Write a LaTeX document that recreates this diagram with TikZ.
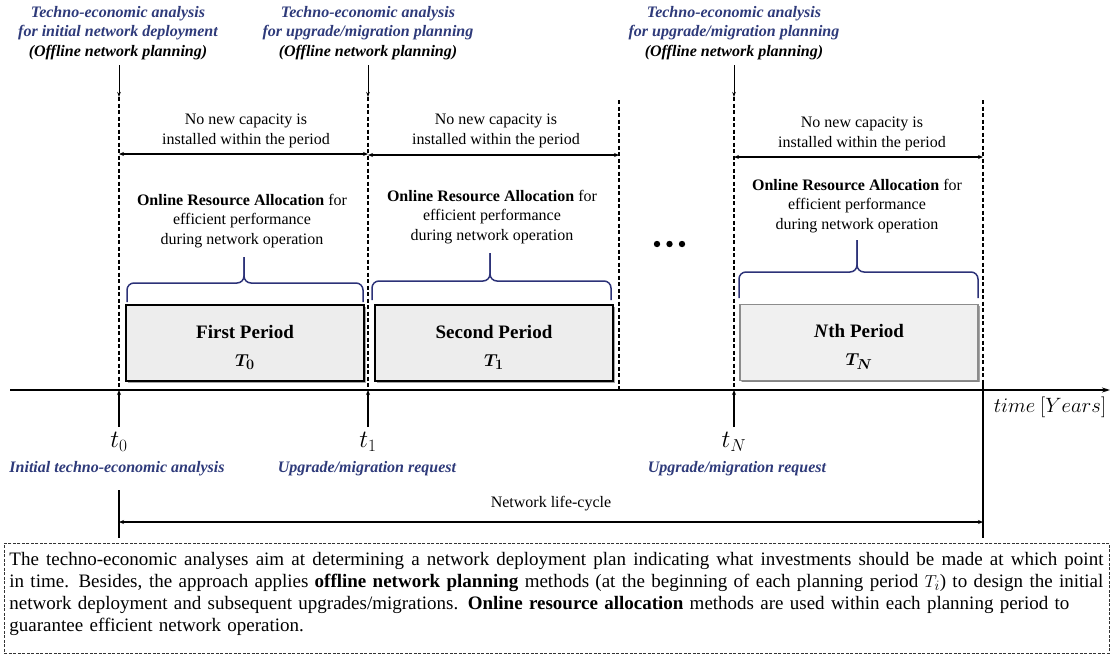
\documentclass[tikz,border=0pt]{standalone}
\usepackage{fontspec}
\setmainfont{Liberation Serif}
\usepackage{bm}
\usetikzlibrary{arrows.meta,shadows}
\definecolor{navy}{HTML}{2E3A7A}
\definecolor{bracecol}{HTML}{2C3278}
\definecolor{boxfill}{HTML}{EDEDED}
\definecolor{lastfill}{HTML}{F0F0F0}
\definecolor{framegray}{HTML}{8C8C8C}
% one justified line of the summary, stretched to a given width
\newcommand{\fullline}[2]{\makebox[#1][s]{\spaceskip=0.25em plus 1em minus 0.06em\relax #2}}

\begin{document}
\begin{tikzpicture}[x=1pt,y=-1pt,
  every node/.style={inner sep=0pt},
  phase/.style={align=center,text=navy,font=\fontsize{16}{19.5}\selectfont\bfseries\itshape},
  event/.style={text=navy,font=\fontsize{16}{19}\selectfont\bfseries\itshape},
  note/.style={align=center,font=\fontsize{16}{19.5}\selectfont},
  ticklabel/.style={font=\fontsize{23}{25}\selectfont},
  periodbox/.style={draw=black,line width=1.6pt,fill=boxfill,minimum width=238pt,
    minimum height=76pt,align=center,font=\fontsize{19}{28}\selectfont\bfseries,
    drop shadow={shadow xshift=1.5pt,shadow yshift=-1.5pt,opacity=0.35,fill=black}},
  boundary/.style={line width=1.3pt,dash pattern=on 4pt off 2.5pt},
  pointer/.style={line width=0.8pt,-{Stealth[length=5pt,width=3.5pt]}},
  raise/.style={line width=1.5pt,-{Stealth[length=5pt,width=4pt]}},
  span/.style={line width=1.3pt,{Stealth[length=5pt,width=4pt]}-{Stealth[length=5pt,width=4pt]}},
  curlybrace/.style={draw=bracecol,line width=1.5pt,rounded corners=7pt},
]
\useasboundingbox (0,0) rectangle (1112,657);

% planning decisions above the time line
\node[phase] (ph0) at (118,33) {Techno-economic analysis\\for initial network deployment\\\textcolor{black}{(Offline network planning)}};
\node[phase] (ph1) at (368,33) {Techno-economic analysis\\for upgrade/migration planning\\\textcolor{black}{(Offline network planning)}};
\node[phase] (phN) at (734,33) {Techno-economic analysis\\for upgrade/migration planning\\\textcolor{black}{(Offline network planning)}};

% period boundaries
\coordinate (s0) at (119,65);  \coordinate (d0) at (119,97);  \coordinate (a0) at (119,390);  \coordinate (u0) at (119,427);
\coordinate (s1) at (368,65);  \coordinate (d1) at (368,97);  \coordinate (a1) at (368,390);  \coordinate (u1) at (368,427);
\coordinate (e1top) at (619,100); \coordinate (e1bot) at (619,390);
\coordinate (sN) at (734,65);  \coordinate (dN) at (734,97);  \coordinate (aN) at (734,390);  \coordinate (uN) at (734,427);
\coordinate (eNtop) at (983,100); \coordinate (eNmid) at (983,381); \coordinate (eNbot) at (983,538);

\draw[pointer] (s0) -- (d0);
\draw[pointer] (s1) -- (d1);
\draw[pointer] (sN) -- (dN);

\draw[boundary] (d0) -- (a0);
\draw[boundary] (d1) -- (a1);
\draw[boundary] (e1top) -- (e1bot);
\draw[boundary] (dN) -- (aN);
\draw[boundary] (eNtop) -- (eNmid);

% capacity spans
\coordinate (h0l) at (119,154); \coordinate (h0r) at (368,154);
\coordinate (h1l) at (368,155); \coordinate (h1r) at (619,155);
\coordinate (hNl) at (734,157); \coordinate (hNr) at (983,157);
\draw[span] (h0l) -- (h0r);
\draw[span] (h1l) -- (h1r);
\draw[span] (hNl) -- (hNr);
\node[note] (cap0) at (246,131) {No new capacity is\\installed within the period};
\node[note] (cap1) at (496,131) {No new capacity is\\installed within the period};
\node[note] (capN) at (862,134) {No new capacity is\\installed within the period};

% online resource allocation
\node[note] (ora0) at (242,221) {\textbf{Online Resource Allocation} for\\efficient performance\\during network operation};
\node[note] (ora1) at (492,217) {\textbf{Online Resource Allocation} for\\efficient performance\\during network operation};
\node[note] (oraN) at (857,206) {\textbf{Online Resource Allocation} for\\efficient performance\\during network operation};

% braces
\draw[curlybrace] (127,302) -- (127,283) -- (244,283) -- (244,257);
\draw[curlybrace] (244,257) -- (244,283) -- (363,283) -- (363,302);
\draw[curlybrace] (372,300) -- (372,281) -- (490,281) -- (490,253);
\draw[curlybrace] (490,253) -- (490,281) -- (611,281) -- (611,300);
\draw[curlybrace] (739,298) -- (739,272) -- (857,272) -- (857,240);
\draw[curlybrace] (857,240) -- (857,272) -- (978,272) -- (978,298);

% periods
\node[periodbox] (p0) at (245,343) {\rule{0pt}{22pt}First Period\\$\bm{T_0}$};
\node[periodbox] (p1) at (494,343) {\rule{0pt}{22pt}Second Period\\$\bm{T_1}$};
\node[periodbox,draw=framegray,fill=lastfill,line width=1.2pt,
  drop shadow={shadow xshift=1.2pt,shadow yshift=-1.2pt,opacity=0.2,fill=black}]
  (pN) at (859,342.5) {\rule{0pt}{22pt}\textit{N}th Period\\$\bm{T_N}$};

% ellipsis
\fill (657,244) circle (3.2pt);
\fill (669.5,244) circle (3.2pt);
\fill (682,244) circle (3.2pt);

% time axis
\coordinate (ax0) at (10,390); \coordinate (ax1) at (1110,390);
\draw[line width=1.3pt,-{Stealth[length=8pt,width=5pt]}] (ax0) -- (ax1);
\node[font=\fontsize{20}{24}\selectfont] (timelbl) at (1050,407) {$time\ [Years]$};

\draw[raise] (u0) -- (a0);
\draw[raise] (u1) -- (a1);
\draw[raise] (uN) -- (aN);
\node[ticklabel] (t0) at (119,442) {$t_0$};
\node[ticklabel] (t1) at (368,442) {$t_1$};
\node[ticklabel] (tN) at (734,442) {$t_N$};
\node[event] (ev0) at (117,469) {Initial techno-economic analysis};
\node[event] (ev1) at (367,469) {Upgrade/migration request};
\node[event] (evN) at (737,469) {Upgrade/migration request};

% network life-cycle
\coordinate (lc0top) at (119,490); \coordinate (lc0bot) at (119,538);
\coordinate (lc0) at (119,522); \coordinate (lc1) at (983,522);
\draw[line width=1.3pt] (lc0top) -- (lc0bot);
\draw[line width=1.3pt] (eNmid) -- (eNbot);
\draw[span,line width=1.1pt] (lc0) -- (lc1);
\node[note] (life) at (551,504) {Network life-cycle};

% summary
\node[draw=black!80,line width=0.8pt,dash pattern=on 3pt off 1.5pt,anchor=north west,
  inner xsep=5pt,inner ysep=6pt,minimum width=1105pt,minimum height=110pt,
  align=left,text width=1095pt,font=\fontsize{19}{22}\selectfont] (summary) at (4,543)
{\fullline{1094pt}{The techno-economic analyses aim at determining a network deployment plan indicating what investments should be made at which point}\\
\fullline{1094pt}{in time. Besides, the approach applies \textbf{offline network planning} methods (at the beginning of each planning period $T_i$) to design the initial}\\
\fullline{1060pt}{network deployment and subsequent upgrades/migrations. \textbf{Online resource allocation} methods are used within each planning period to}\\
guarantee efficient network operation.\rule[-14pt]{0pt}{14pt}};
\end{tikzpicture}
\end{document}
